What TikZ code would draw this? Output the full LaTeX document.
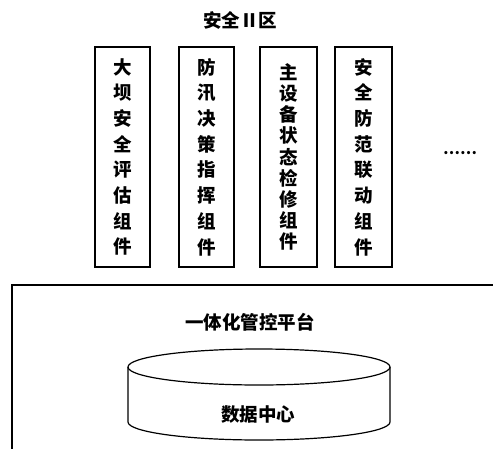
\documentclass[tikz,border=0pt]{standalone}
\usepackage{fontspec}
\newfontfamily\cjk{Noto Sans CJK SC}
\begin{document}
\begin{tikzpicture}[x=1pt,y=-1pt,
  comp/.style={draw,line width=1.4pt,minimum width=55pt,minimum height=220pt,inner sep=0pt,align=center,
    font=\cjk\bfseries\fontsize{18.5}{25.7}\selectfont},
  lbl/.style={font=\cjk\bfseries\fontsize{18.5}{20}\selectfont,inner sep=0pt},
  outline/.style={line width=1.2pt}]
\useasboundingbox (0,0) rectangle (493,448);
\clip (0,0) rectangle (493,448);
\node[lbl] (title) at (240,20) {安全Ⅱ区};
\node[comp] (c1) at (122.5,157) {大\\坝\\安\\全\\评\\估\\组\\件};
\node[comp] (c2) at (206.5,157) {防\\汛\\决\\策\\指\\挥\\组\\件};
\node[comp,minimum width=57pt,font=\cjk\bfseries\fontsize{18.5}{21.1}\selectfont] (c3) at (288.5,157) {主\\设\\备\\状\\态\\检\\修\\组\\件};
\node[comp,minimum width=57pt] (c4) at (363.5,157) {安\\全\\防\\范\\联\\动\\组\\件};
\node[lbl,font=\cjk\bfseries\fontsize{15}{16}\selectfont] (dots) at (460,153) {……};
% platform
\draw[outline] (12,470) -- (12,285) -- (510,285);
\node[lbl] (plat) at (250,322) {一体化管控平台};
\draw[outline] (128,367) -- (128,422) arc[start angle=180,end angle=0,x radius=131,y radius=18] -- (390,367);
\draw[outline] (259,367) ellipse[x radius=131,y radius=18];
\node[lbl] (dc) at (258,415) {数据中心};
\end{tikzpicture}
\end{document}
